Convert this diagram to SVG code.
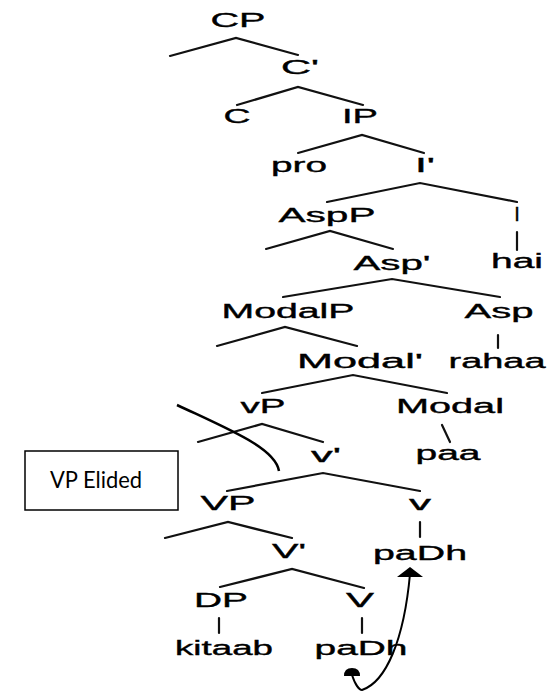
<svg xmlns="http://www.w3.org/2000/svg" width="549" height="691" viewBox="0 0 549 691">
  <style>
    .lbl { font-family: "Liberation Sans", Arial, sans-serif; font-size: 20px; fill: #000; stroke: #000; stroke-width: 0.35; text-anchor: middle; }
    .edge { stroke: #111; stroke-width: 2.2; fill: none; stroke-linecap: round; }
    .note { font-family: Lato, "Liberation Sans", sans-serif; font-size: 23px; fill: #000; }
  </style>
  <rect width="549" height="691" fill="#fff"/>

  <!-- tree branches -->
  <g id="connectors">
    <path class="edge" d="M170,56 L236,38 L298,55"/>
    <path class="edge" d="M237,105 L298,87 L363,105"/>
    <path class="edge" d="M298,153 L362,135 L424,153"/>
    <path class="edge" d="M327,202 L420,183 L517,202"/>
    <path class="edge" d="M266,249 L330,231 L393,249"/>
    <path class="edge" d="M283,297 L392,279 L500,297"/>
    <path class="edge" d="M217,346 L285,327 L357,346"/>
    <path class="edge" d="M262,393 L353,375 L447,393"/>
    <path class="edge" d="M198,442 L262,424 L323,442"/>
    <path class="edge" d="M227,491 L323,473 L420,491"/>
    <path class="edge" d="M165,538 L228,522 L292,538"/>
    <path class="edge" d="M220,587 L292,569 L364,588"/>
    <!-- unary lines -->
    <path class="edge" d="M517,232 L517,250"/>
    <path class="edge" d="M498,335 L498,348"/>
    <path class="edge" d="M442,425 L450,442"/>
    <path class="edge" d="M420,522 L420,537"/>
    <path class="edge" d="M219,618 L219,633"/>
    <path class="edge" d="M362,618 L362,633"/>
    <!-- elision stroke -->
    <path d="M177,405 C230,430 275,448 279,471" stroke="#000" stroke-width="2.5" fill="none"/>
    <!-- head movement: V raises to v -->
    <path d="M352,675 C355,684 359,690 362,690 C386,682 404,640 410,574" stroke="#000" stroke-width="2" fill="none"/>
    <path d="M344,676 Q344,668 352,668 Q360,668 360,676 Z" fill="#000"/>
    <polygon points="410,567 423,577 397,577" fill="#000"/>
  </g>

  <g id="CP"><text class="lbl" x="238" y="27" textLength="55" lengthAdjust="spacingAndGlyphs">CP</text></g>
  <g id="Cbar"><text class="lbl" x="300" y="74" textLength="38" lengthAdjust="spacingAndGlyphs">C'</text></g>
  <g id="C"><text class="lbl" x="237" y="123" textLength="27" lengthAdjust="spacingAndGlyphs">C</text></g>
  <g id="IP"><text class="lbl" x="360" y="123" textLength="36" lengthAdjust="spacingAndGlyphs">IP</text></g>
  <g id="pro"><text class="lbl" x="299" y="172" textLength="56" lengthAdjust="spacingAndGlyphs">pro</text></g>
  <g id="Ibar"><text class="lbl" x="425" y="172" textLength="20" lengthAdjust="spacingAndGlyphs">I'</text></g>
  <g id="AspP"><text class="lbl" x="327" y="222" textLength="97" lengthAdjust="spacingAndGlyphs">AspP</text></g>
  <g id="I"><text class="lbl" x="517" y="221">I</text></g>
  <g id="Aspbar"><text class="lbl" x="392" y="270" textLength="77" lengthAdjust="spacingAndGlyphs">Asp'</text></g>
  <g id="hai"><text class="lbl" x="517" y="268" textLength="52" lengthAdjust="spacingAndGlyphs">hai</text></g>
  <g id="ModalP"><text class="lbl" x="288" y="318" textLength="133" lengthAdjust="spacingAndGlyphs">ModalP</text></g>
  <g id="Asp"><text class="lbl" x="499" y="318" textLength="69" lengthAdjust="spacingAndGlyphs">Asp</text></g>
  <g id="Modalbar"><text class="lbl" x="360" y="368" textLength="126" lengthAdjust="spacingAndGlyphs">Modal'</text></g>
  <g id="rahaa"><text class="lbl" x="497" y="368" textLength="97" lengthAdjust="spacingAndGlyphs">rahaa</text></g>
  <g id="vP"><text class="lbl" x="263" y="413" textLength="45" lengthAdjust="spacingAndGlyphs">vP</text></g>
  <g id="Modal"><text class="lbl" x="450" y="413" textLength="108" lengthAdjust="spacingAndGlyphs">Modal</text></g>
  <g id="paa"><text class="lbl" x="448" y="460" textLength="65" lengthAdjust="spacingAndGlyphs">paa</text></g>
  <g id="vbar"><text class="lbl" x="326" y="462" textLength="30" lengthAdjust="spacingAndGlyphs">v'</text></g>
  <g id="VP"><text class="lbl" x="228" y="510" textLength="55" lengthAdjust="spacingAndGlyphs">VP</text></g>
  <g id="v"><text class="lbl" x="420" y="510" textLength="22" lengthAdjust="spacingAndGlyphs">v</text></g>
  <g id="paDh-v"><text class="lbl" x="420" y="560" textLength="94" lengthAdjust="spacingAndGlyphs">paDh</text></g>
  <g id="Vbar"><text class="lbl" x="289" y="558" textLength="34" lengthAdjust="spacingAndGlyphs">V'</text></g>
  <g id="DP"><text class="lbl" x="221" y="607" textLength="54" lengthAdjust="spacingAndGlyphs">DP</text></g>
  <g id="V"><text class="lbl" x="360" y="607" textLength="28" lengthAdjust="spacingAndGlyphs">V</text></g>
  <g id="kitaab"><text class="lbl" x="224" y="655" textLength="98" lengthAdjust="spacingAndGlyphs">kitaab</text></g>
  <g id="paDh-V"><text class="lbl" x="361" y="655" textLength="93" lengthAdjust="spacingAndGlyphs">paDh</text></g>

  <g id="VP-Elided">
    <rect x="25" y="451" width="153" height="59" fill="#fff" stroke="#000" stroke-width="1.5"/>
    <text class="note" x="50" y="488" textLength="92" lengthAdjust="spacingAndGlyphs">VP Elided</text>
  </g>
</svg>
